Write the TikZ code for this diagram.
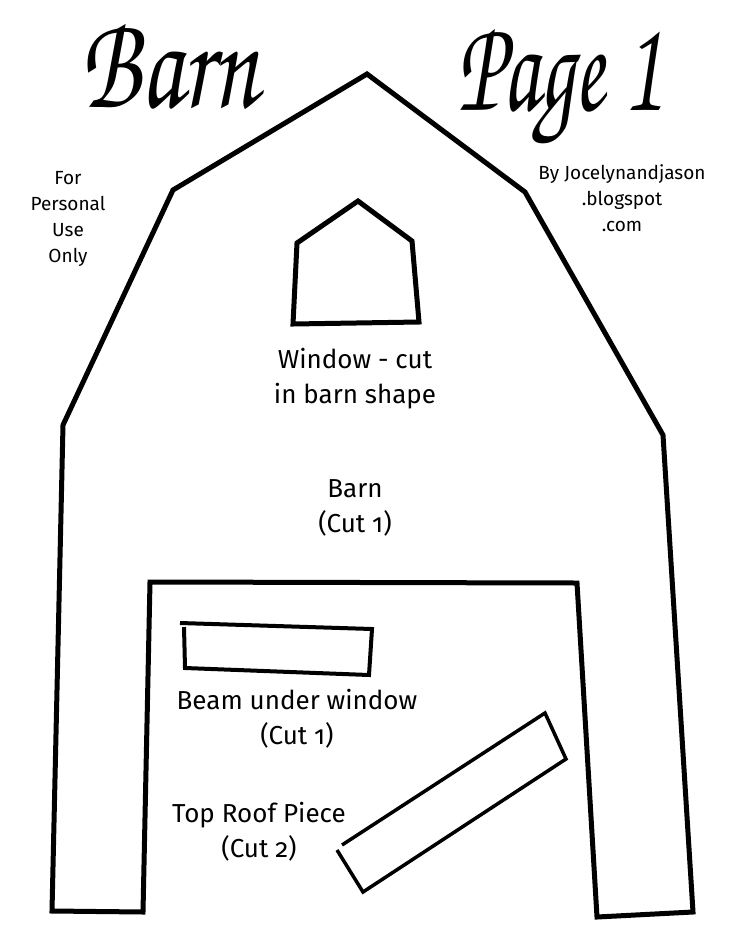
\documentclass[tikz,border=0pt]{standalone}
\usepackage[T1]{fontenc}
\usepackage{fontspec}
\usepackage{graphicx}
\setmainfont{Fira Sans}[Numbers=OldStyle]
\newcommand{\cursive}{\fontencoding{T1}\fontfamily{pzc}\fontseries{m}\fontshape{it}\fontsize{100}{100}\selectfont}

\begin{document}
\begin{tikzpicture}[x=1pt, y=-1pt, line join=miter,
    outline/.style={line width=5pt},
    piece/.style={line width=4pt},
    note/.style={align=center, anchor=base, font=\fontsize{19}{26}\selectfont},
    cutnote/.style={align=center, anchor=base, font=\fontsize{26}{35}\selectfont}]

      \useasboundingbox (0,0) rectangle (735,951);

      \node [anchor=base west, inner sep=0pt, font=\cursive] (title) at (80,107) {\scalebox{1.0}[1.35]{Barn}};
      \node [anchor=base west, inner sep=0pt, font=\cursive] (page) at (457,110) {\scalebox{0.87}[1.35]{Page 1}};
      \node [note] (personal) at (68,262) {For\\Personal\\Use\\Only};
      \node [note] (credit) at (622,231) {By Jocelynandjason\\.blogspot\\.com};

      \draw [outline] (52,911) -- (63,425) -- (173,190) -- (367,74) -- (525,192)
        -- (663,435) -- (693,912) -- (597,917) -- (577,583) -- (150,582)
        -- (143,912) -- cycle;
      \draw [outline] (293,324) -- (297,243) -- (358,201) -- (412,241) -- (419,322) -- cycle;
      \draw [piece] (180,623) -- (372,629) -- (369,675) -- (185,668) -- (184,627);
      \draw [piece, line width=3.5pt] (342,845) -- (545,713) -- (566,759) -- (363,892) -- (337,850);

      \node [cutnote] (windowtext) at (355,403) {Window - cut\\in barn shape};
      \node [cutnote] (barntext) at (355,532) {Barn\\(Cut 1)};
      \node [cutnote] (beamtext) at (297,744) {Beam under window\\(Cut 1)};
      \node [cutnote] (rooftext) at (259,857) {Top Roof Piece\\(Cut 2)};

    \end{tikzpicture}
\end{document}
